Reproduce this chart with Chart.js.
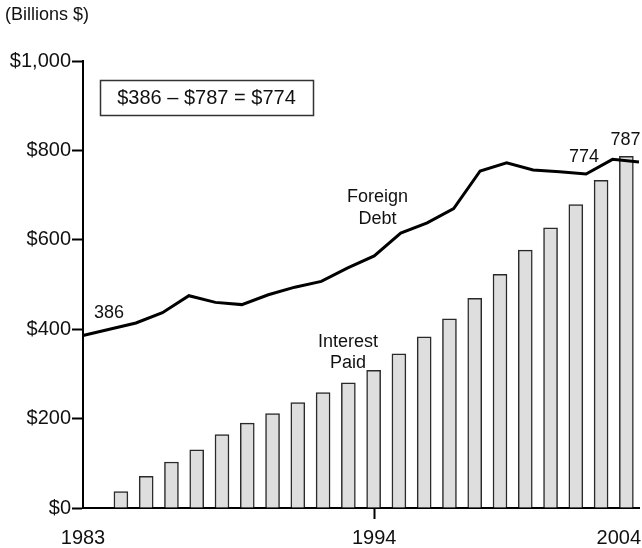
<!DOCTYPE html>
<html>
<head>
<meta charset="utf-8">
<script src="https://cdn.jsdelivr.net/npm/chart.js@4/dist/chart.umd.min.js"></script>
<style>
  body { margin: 0; background: #fff; }
  canvas { display: block; }
</style>
</head>
<body>
<canvas id="debtChart" width="642" height="548"></canvas>
<script>
// Data (billions $)
const years = [1983, 1984, 1985, 1986, 1987, 1988, 1989, 1990, 1991, 1992, 1993,
               1994, 1995, 1996, 1997, 1998, 1999, 2000, 2001, 2002, 2003, 2004];
const foreignDebt = [386, 400, 414, 437, 475, 460, 455, 477, 494, 507, 537,
                     564, 615, 638, 670, 754, 772, 756, 752, 747, 780, 774];
const interestYears = [1984, 1985, 1986, 1987, 1988, 1989, 1990, 1991, 1992, 1993, 1994,
                       1995, 1996, 1997, 1998, 1999, 2000, 2001, 2002, 2003, 2004];
const interestPaid = [37, 71, 103, 130, 164, 190, 211, 236, 258, 280, 308,
                      345, 383, 423, 469, 523, 577, 627, 679, 733, 787];
const xTickLabels = ['1983', '1994', '2004'];
const yTicks = [0, 200, 400, 600, 800, 1000];

const FONT = '"Liberation Sans", Arial, Helvetica, sans-serif';
const TEXT = '#111';

// Annotation texts drawn on top
const notesPlugin = {
    id: 'notes',
    afterDraw(chart) {
        const ctx = chart.ctx;
        ctx.save();
        ctx.fillStyle = TEXT;
        ctx.textBaseline = 'middle';

        ctx.font = '18px ' + FONT;
        ctx.textAlign = 'left';
        ctx.fillText('(Billions $)', 5, 15.5);

        // summary box
        ctx.strokeStyle = '#333';
        ctx.lineWidth = 1.5;
        ctx.strokeRect(100.5, 80.5, 213, 35);
        ctx.font = '20px ' + FONT;
        ctx.textAlign = 'center';
        ctx.fillText('$386 \u2013 $787 = $774', 206.5, 98.5);

        ctx.font = '18px ' + FONT;
        ctx.fillText('386', 109, 313);
        ctx.fillText('Foreign', 377.5, 197.5);
        ctx.fillText('Debt', 377.5, 219);
        ctx.fillText('Interest', 348, 342.5);
        ctx.fillText('Paid', 348, 363.5);
        ctx.fillText('774', 584, 157);
        ctx.fillText('787', 625.5, 140.5);

        // x labels (last one kept inside the canvas)
        const xs = chart.scales.x;
        ctx.font = '20px ' + FONT;
        ctx.textBaseline = 'alphabetic';
        xTickLabels.forEach(lbl => {
            const idx = years.indexOf(Number(lbl));
            const w = ctx.measureText(lbl).width;
            let px = xs.getPixelForValue(idx);
            px = Math.min(px, chart.width - 1 - w / 2);
            ctx.fillText(lbl, px, 544);
        });
        ctx.restore();
    }
};

const ctx = document.getElementById('debtChart').getContext('2d');
new Chart(ctx, {
    type: 'bar',
    data: {
        labels: years.map(String),
        datasets: [
            {
                type: 'line',
                label: 'Foreign Debt',
                data: foreignDebt,
                xAxisID: 'x',
                yAxisID: 'y',
                borderColor: '#000',
                borderWidth: 3,
                pointRadius: 0,
                tension: 0,
                fill: false,
                order: 0
            },
            {
                type: 'bar',
                label: 'Interest Paid',
                data: interestYears.map((yr, i) => ({ x: yr, y: interestPaid[i] })),
                xAxisID: 'xBar',
                yAxisID: 'y',
                backgroundColor: '#dedede',
                borderColor: '#2a2a2a',
                borderWidth: 1.5,
                barThickness: 14,
                grouped: false,
                order: 1
            }
        ]
    },
    options: {
        responsive: false,
        animation: false,
        layout: { padding: { top: 61, right: 3, left: 0, bottom: 0 } },
        plugins: { legend: { display: false }, tooltip: { enabled: false } },
        scales: {
            x: {
                type: 'category',
                offset: false,
                border: { display: true, color: '#000', width: 2 },
                grid: {
                    display: true,
                    offset: false,
                    drawOnChartArea: false,
                    drawTicks: true,
                    tickLength: 11,
                    tickWidth: 2,
                    tickColor: c => (c.tick && c.tick.value === years.indexOf(1994)) ? '#000' : 'rgba(0,0,0,0)'
                },
                ticks: { display: false, autoSkip: false },
                afterFit: s => { s.height = 40; }
            },
            xBar: {
                type: 'linear',
                display: false,
                offset: false,
                grid: { offset: false },
                min: 1982.5,
                max: 2004.5
            },
            y: {
                min: 0,
                max: 1000,
                afterBuildTicks: s => { s.ticks = yTicks.map(v => ({ value: v })); },
                border: { display: true, color: '#000', width: 2 },
                grid: {
                    drawOnChartArea: false,
                    drawTicks: true,
                    tickLength: 11,
                    tickWidth: 2,
                    tickColor: '#000'
                },
                ticks: {
                    padding: 1,
                    color: TEXT,
                    font: { family: FONT, size: 20 },
                    callback: v => '$' + Number(v).toLocaleString('en-US')
                },
                afterFit: s => { s.width = 83; }
            }
        }
    },
    plugins: [notesPlugin]
});
</script>
</body>
</html>
